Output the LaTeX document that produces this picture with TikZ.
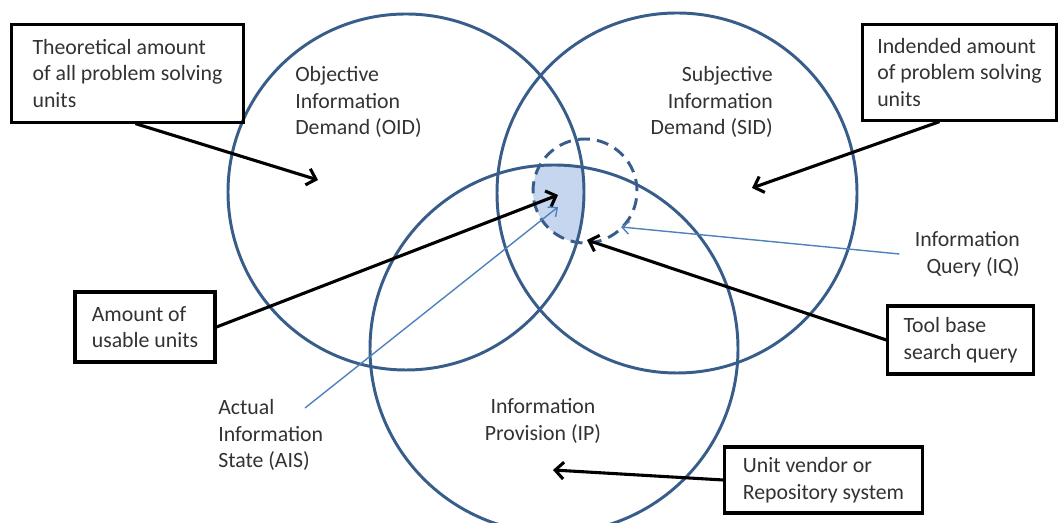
\documentclass[tikz,border=0pt]{standalone}
\usepackage{fontspec}
\setmainfont{Carlito}
\usetikzlibrary{arrows.meta,positioning,calc}
\definecolor{CircleBlue}{RGB}{56,93,138}
\definecolor{ArrowBlue}{RGB}{79,129,189}
\definecolor{ShadeBlue}{RGB}{197,214,238}
\definecolor{TextGray}{RGB}{50,50,50}
\tikzset{
  ring/.style={draw=CircleBlue,line width=2.1pt},
  dring/.style={draw=CircleBlue,line width=2.1pt,dash pattern=on 0.3cm off 0.18cm},
  ubox/.style={draw=black,line width=2.2pt,align=left,inner sep=0pt,
               font=\fontsize{15.5}{19}\selectfont,text=TextGray},
  lbl/.style={inner sep=0pt,font=\fontsize{15.5}{19}\selectfont,text=TextGray},
  arrk/.style={-{Straight Barb[length=6pt,width=12pt]},black,line width=2.2pt},
  arrb/.style={-{Straight Barb[length=5pt,width=9pt]},ArrowBlue,line width=1pt},
}
\begin{document}
\begin{tikzpicture}[x=0.025cm,y=0.025cm]
\useasboundingbox (0,0) rectangle (1059,523);
% circle centres
\coordinate (cOID) at (406,331);
\coordinate (cSID) at (677,330);
\coordinate (cIP) at (554,174);
\coordinate (cIQ) at (585,332);
% actual information state
\begin{scope}
  \clip (cIP) circle (184);
  \clip (cOID) circle (178);
  \fill[ShadeBlue] (cIQ) circle (52);
\end{scope}
\draw[ring] (cOID) circle (178);
\draw[ring] (cSID) circle (180);
\draw[ring] (cIP) circle (184);
\draw[dring] (cIQ) circle (52);

% labels
\node[lbl,anchor=west,align=left] (oid) at (295,421) {Objective\\Information\\Demand (OID)};
\node[lbl,anchor=east,align=right] (sid) at (773,421) {Subjective\\Information\\Demand (SID)};
\node[lbl,anchor=east,align=right] (iq) at (1020,269) {Information\\Query (IQ)};
\node[lbl,anchor=west,align=left] (ais) at (218,88) {Actual\\Information\\State (AIS)};
\node[lbl,align=center] (ip) at (543,102) {Information\\Provision (IP)};

% boxes
\node[ubox,minimum width=5.78cm,minimum height=2.43cm] (theo) at (127.5,449.5)
  {Theoretical amount\\of all problem solving\\units};
\node[ubox,minimum width=4.83cm,minimum height=2.38cm] (inde) at (959.5,450.5)
  {Indended amount\\of problem solving\\units};
\node[ubox,minimum width=3.5cm,minimum height=1.75cm] (usab) at (145,196)
  {Amount of\\usable units};
\node[ubox,minimum width=3.63cm,minimum height=1.7cm] (tool) at (960.5,183)
  {Tool base\\search query};
\node[ubox,minimum width=4.93cm,minimum height=1.65cm] (vend) at (823.5,43)
  {Unit vendor or\\Repository system};

% arrow ends
\coordinate (tOID) at (318,343);
\coordinate (tSID) at (752,335);
\coordinate (tAIS) at (558,328);
\coordinate (tTool) at (587,283);
\coordinate (tIP) at (553,53);
\coordinate (sAIS) at (305,115);
\coordinate (tAISb) at (558,316);
\coordinate (tIQ) at (621,296);

\draw[arrk] ([xshift=0.2cm]theo.south) -- (tOID);
\draw[arrk] ([xshift=-0.5cm]inde.south) -- (tSID);
\draw[arrk] (usab.east) -- (tAIS);
\draw[arrk] (tool.west) -- (tTool);
\draw[arrk] (vend.west) -- (tIP);
\draw[arrb] (sAIS) -- (tAISb);
\draw[arrb] ([xshift=-0.38cm]iq.west) -- (tIQ);
\end{tikzpicture}
\end{document}
